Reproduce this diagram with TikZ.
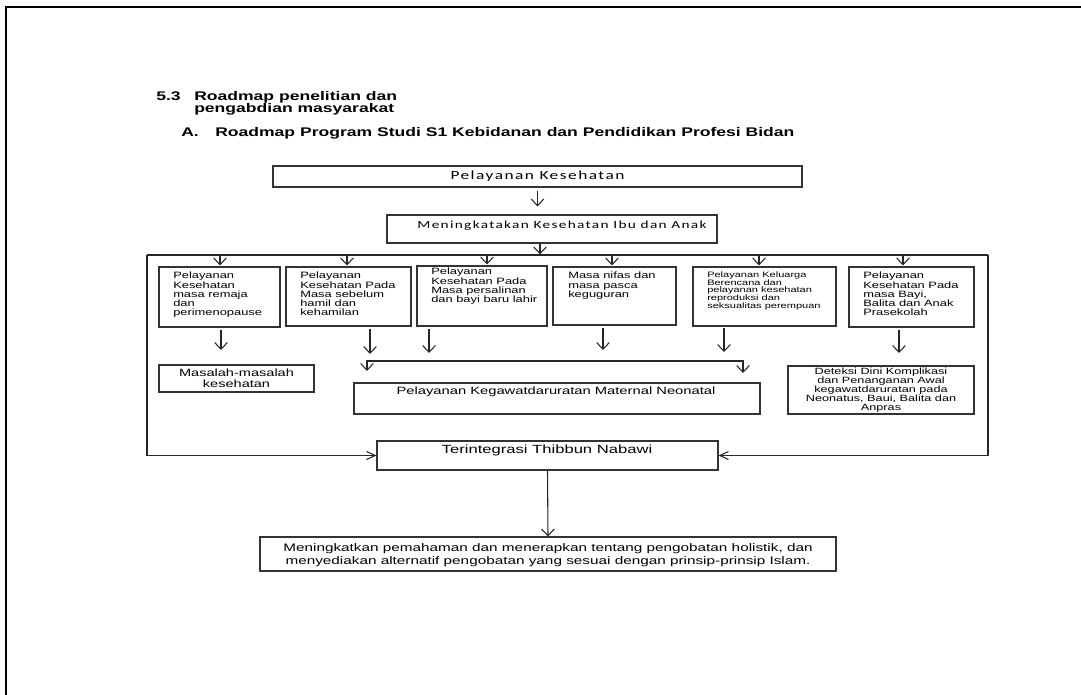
\documentclass[tikz,border=0pt]{standalone}
\usepackage{fontspec}
\setmainfont{Liberation Sans}
\newfontfamily\ar[FakeStretch=1.4]{Liberation Sans}
\newfontfamily\arb[FakeStretch=1.4]{Liberation Sans Bold}
\newfontfamily\cb[FakeStretch=1.4,LetterSpace=12]{Carlito}
\usetikzlibrary{arrows.meta,fit}
\begin{document}
\begin{tikzpicture}[x=0.75pt,y=-0.75pt,
  box/.style={draw=black!80, line width=0.8pt, inner sep=0pt},
  conn/.style={draw=black!85, line width=0.8pt},
  arr/.style={conn, -{Straight Barb[length=5pt,width=9.5pt]}},
  harr/.style={conn, -{Straight Barb[length=6.5pt,width=6pt]}},
  hd/.style={font=\arb\fontsize{9.4}{11}\selectfont, inner sep=0pt, anchor=base west},
  sm/.style={font=\ar\fontsize{6.9}{6.9}\selectfont, align=left, inner sep=0pt, anchor=north west},
  smb/.style={font=\ar\fontsize{5.9}{5.8}\selectfont, align=left, inner sep=0pt, anchor=north west},
  ctr/.style={align=center, inner sep=0pt},
]
\useasboundingbox (0,0) rectangle (1081,695);
% page frame
\draw[line width=1.9pt] (6,695) -- (6,7) -- (1081,7);

% headings
\node[hd] (h53) at (156,101) {5.3};
\node[hd] (h1) at (194,101) {Roadmap penelitian dan};
\node[hd] (h2) at (194,113) {pengabdian masyarakat};
\node[hd] (hA) at (181,137) {A.};
\node[hd] (hA2) at (215,137) {Roadmap Program Studi S1 Kebidanan dan Pendidikan Profesi Bidan};

% top boxes
\node[box, fit={(273,166) (802,187)}] (pk) {};
\node[ctr, font=\cb\fontsize{9.3}{11}\selectfont] (pkt) at (pk.center) {Pelayanan Kesehatan};
\node[box, fit={(387,215) (717,243)}] (mk) {};
\node[ctr, font=\cb\fontsize{8.2}{10}\selectfont] (mkt) at (562,226) {Meningkatakan Kesehatan Ibu dan Anak};

% container
\coordinate (ctl) at (147,255);
\coordinate (ctr) at (988,255);
\coordinate (cin) at (540,255);

% six boxes
\node[box, fit={(159,267) (280,327)}] (b1) {};
\node[box, fit={(286,267) (411,326)}] (b2) {};
\node[box, fit={(417,266) (547,326)}] (b3) {};
\node[box, fit={(553,267) (676,325)}] (b4) {};
\node[box, fit={(693,267) (836,326)}] (b5) {};
\node[box, fit={(849,267) (974,327)}] (b6) {};
\node[sm] (b1t) at (173,272) {Pelayanan\\Kesehatan\\masa remaja\\dan\\perimenopause};
\node[sm] (b2t) at (300,272) {Pelayanan\\Kesehatan Pada\\Masa sebelum\\hamil dan\\kehamilan};
\node[sm] (b3t) at (431,268) {Pelayanan\\Kesehatan Pada\\Masa persalinan\\dan bayi baru lahir};
\node[sm] (b4t) at (568,272) {Masa nifas dan\\masa pasca\\keguguran};
\node[smb] (b5t) at (707,271.5) {Pelayanan Keluarga\\Berencana dan\\pelayanan kesehatan\\reproduksi dan\\seksualitas perempuan};
\node[sm] (b6t) at (863,272) {Pelayanan\\Kesehatan Pada\\masa Bayi,\\Balita dan Anak\\Prasekolah};

% top arrows into boxes
\coordinate (t1) at (220,255);
\coordinate (t2) at (347,255);
\coordinate (t3) at (487,255);
\coordinate (t4) at (612,255);
\coordinate (t5) at (759,255);
\coordinate (t6) at (903,255);

% lower boxes
\node[box, fit={(159,365) (314,392)}] (ms) {};
\node[ctr, font=\ar\fontsize{7.8}{8.25}\selectfont] (mst) at (ms.center) {Masalah-masalah\\kesehatan};
\node[box, fit={(354,383) (760,414)}] (kg) {};
\node[ctr, font=\ar\fontsize{7.9}{9}\selectfont] (kgt) at (556,392) {Pelayanan Kegawatdaruratan Maternal Neonatal};
\node[box, fit={(788,366) (974,414)}] (dt) {};
\node[ctr, font=\ar\fontsize{6.8}{6.75}\selectfont] (dtt) at (881,390.5) {Deteksi Dini Komplikasi\\dan Penanganan Awal\\kegawatdaruratan pada\\Neonatus, Baui, Balita dan\\Anpras};

% free ends of arrows below boxes
\coordinate (e1) at (221,350);
\coordinate (e2) at (370,354);
\coordinate (e3) at (429,353);
\coordinate (e4) at (603,350);
\coordinate (e5) at (724,352);
\coordinate (e6) at (899,353);
\coordinate (bl) at (367,361);
\coordinate (br) at (743,361);
\coordinate (bl2) at (367,371);
\coordinate (br2) at (743,373);

% Thibbun and final
\node[box, fit={(377,441) (718,470)}] (tn) {};
\node[ctr, font=\ar\fontsize{8.9}{10}\selectfont] (tnt) at (547,450) {Terintegrasi Thibbun Nabawi};
\node[box, fit={(260,537) (836,571)}] (fn) {};
\node[ctr, font=\ar\fontsize{8.2}{9.75}\selectfont] (fnt) at (548,555) {Meningkatkan pemahaman dan menerapkan tentang pengobatan holistik, dan\\menyediakan alternatif pengobatan yang sesuai dengan prinsip-prinsip Islam.};

% connectors
\draw[arr, shorten <=2.25pt, shorten >=6pt] (pk.south) -- (pk.south |- mk.north);
\draw[arr, shorten >=0.5pt] (mk.south -| cin) -- (cin);
\draw[conn] (ctl) -- (ctr);
\draw[harr] (ctl) |- (tn.west);
\draw[harr] (ctr) |- (tn.east);
\foreach \t/\b in {t1/b1,t2/b2,t3/b3,t4/b4,t5/b5,t6/b6}
  \draw[arr, shorten >=0.75pt] (\t) -- (\t |- \b.north);
\draw[arr, shorten <=1.5pt] (b1.south -| e1) -- (e1);
\draw[arr, shorten <=2pt] (b2.south -| e2) -- (e2);
\draw[arr, shorten <=2pt] (b3.south -| e3) -- (e3);
\draw[arr, shorten <=2pt] (b4.south -| e4) -- (e4);
\draw[arr, shorten <=1pt] (b5.south -| e5) -- (e5);
\draw[arr, shorten <=1.5pt] (b6.south -| e6) -- (e6);
\draw[conn, {Straight Barb[length=5pt,width=9.5pt]}-{Straight Barb[length=5pt,width=9.5pt]}] (bl2) -- (bl) -- (br) -- (br2);
\draw[arr] (tn.south) -- (fn.north);
\end{tikzpicture}
\end{document}
